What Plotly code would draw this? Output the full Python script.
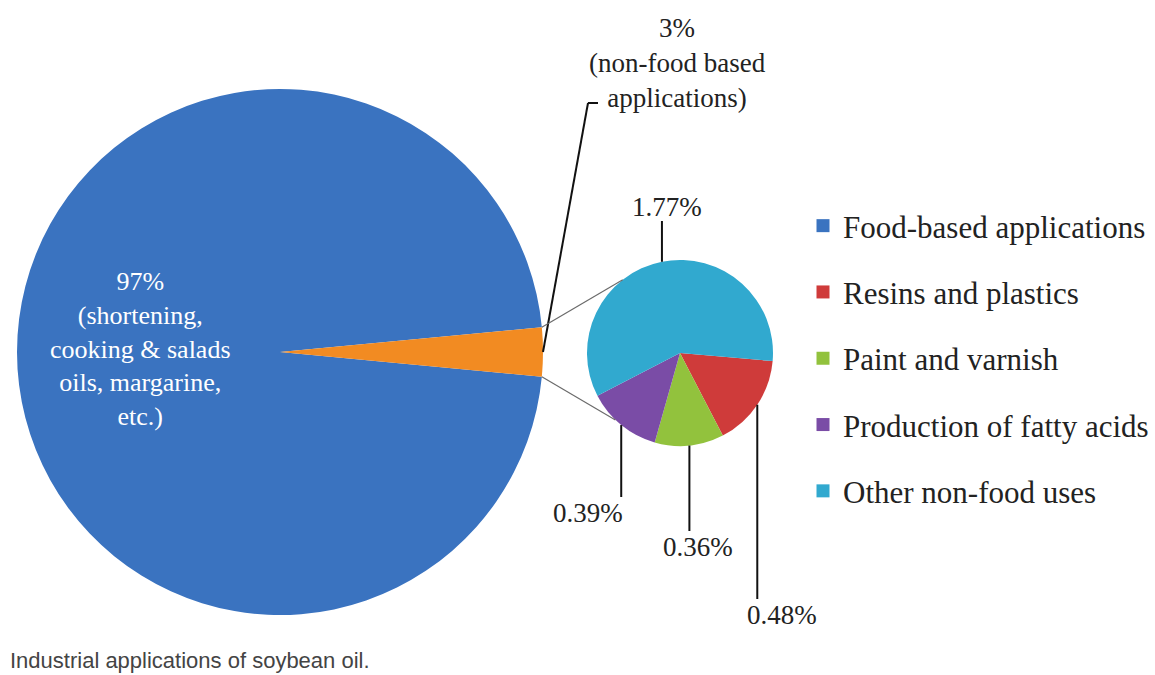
import math
import plotly.graph_objects as go

# ---------------- data ----------------
main_labels = ["Food-based applications", "Non-food based applications"]
main_values = [97, 3]
main_notes = ["(shortening,<br>cooking & salads<br>oils, margarine,<br>etc.)",
              "(non-food based<br>applications)"]

sub_labels = ["Resins and plastics", "Paint and varnish",
              "Production of fatty acids", "Other non-food uses"]
sub_values = [0.48, 0.36, 0.39, 1.77]

legend_order = ["Food-based applications", "Resins and plastics", "Paint and varnish",
                "Production of fatty acids", "Other non-food uses"]

caption = "Industrial applications of soybean oil."

# ---------------- styles ----------------
colors = {
    "Food-based applications": "#3A73C0",
    "Non-food based applications": "#F28B22",
    "Resins and plastics": "#CF3B3A",
    "Paint and varnish": "#92C23D",
    "Production of fatty acids": "#7A4CA6",
    "Other non-food uses": "#31A9CF",
}

W, H = 1155, 675
BIG_C, BIG_R = (280, 352), 263
SMALL_C, SMALL_R = (680, 353), 93
SUB_ROTATION = 95
CONNECT_ANGLES = (322, 224)  # upper / lower points reached on the small pie

# label anchor positions (px) for the small-pie labels, same order as sub_labels
sub_label_pos = [(782, 615), (698, 547), (588, 513), (667, 207)]
main_label_pos = [(140, 349), (677, 63)]
non_food_elbow = [(588, 103), (598, 103)]

SERIF = "Liberation Serif"


def px(x):
    return x / W


def py(y):
    return 1 - y / H


def on_circle(c, r, ang):
    a = math.radians(ang)
    return c[0] + r * math.sin(a), c[1] - r * math.cos(a)


def domain(c, r):
    return dict(x=[px(c[0] - r), px(c[0] + r)], y=[py(c[1] + r), py(c[1] - r)])


total_main = sum(main_values)
# centre the non-food slice on 3 o'clock
before = sum(main_values[:1]) + main_values[1] / 2
main_rotation = (90 - 360 * before / total_main) % 360
slice_start = main_rotation + 360 * main_values[0] / total_main
slice_end = slice_start + 360 * main_values[1] / total_main
slice_mid = (slice_start + slice_end) / 2

fig = go.Figure()

fig.add_trace(go.Pie(
    labels=main_labels, values=main_values, sort=False, direction="clockwise",
    rotation=main_rotation, domain=domain(BIG_C, BIG_R),
    marker=dict(colors=[colors[l] for l in main_labels], line=dict(width=0)),
    textinfo="none", showlegend=False, hoverinfo="label+value",
))

fig.add_trace(go.Pie(
    labels=sub_labels, values=sub_values, sort=False, direction="clockwise",
    rotation=SUB_ROTATION, domain=domain(SMALL_C, SMALL_R),
    marker=dict(colors=[colors[l] for l in sub_labels], line=dict(width=0)),
    textinfo="none", showlegend=False, hoverinfo="label+value",
))

# legend entries
for lab in legend_order:
    fig.add_trace(go.Scatter(
        x=[None], y=[None], mode="markers", name=lab, legendgroup=lab,
        marker=dict(symbol="square", size=13, color=colors[lab]),
        showlegend=True, hoverinfo="skip",
    ))

shapes = []
annotations = []

# main pie labels
annotations.append(dict(
    x=px(main_label_pos[0][0]), y=py(main_label_pos[0][1]), xref="paper", yref="paper",
    text=f"{main_values[0]}%<br>{main_notes[0]}", showarrow=False,
    font=dict(family=SERIF, size=26, color="white"), align="center",
    xanchor="center", yanchor="middle",
))
annotations.append(dict(
    x=px(main_label_pos[1][0]), y=py(main_label_pos[1][1]), xref="paper", yref="paper",
    text=f"{main_values[1]}%<br>{main_notes[1]}", showarrow=False,
    font=dict(family=SERIF, size=27, color="#222"), align="center",
    xanchor="center", yanchor="middle",
))

# leader for the non-food slice
sx, sy = on_circle(BIG_C, BIG_R, slice_mid)
pts = [(sx, sy)] + non_food_elbow
for (x0, y0), (x1, y1) in zip(pts[:-1], pts[1:]):
    shapes.append(dict(type="line", xref="paper", yref="paper",
                       x0=px(x0), y0=py(y0), x1=px(x1), y1=py(y1),
                       line=dict(color="#111", width=2)))

# connectors between the pies (upper edge -> upper point, lower edge -> lower point)
for edge_ang, small_ang in ((slice_start, CONNECT_ANGLES[0]), (slice_end, CONNECT_ANGLES[1])):
    x0, y0 = on_circle(BIG_C, BIG_R, edge_ang)
    x1, y1 = on_circle(SMALL_C, SMALL_R, small_ang)
    shapes.append(dict(type="line", xref="paper", yref="paper",
                       x0=px(x0), y0=py(y0), x1=px(x1), y1=py(y1),
                       line=dict(color="#6b6b6b", width=1.2)))

# small pie labels with vertical leader lines
total_sub = sum(sub_values)
ang = SUB_ROTATION
for lab, v, (lx, ly) in zip(sub_labels, sub_values, sub_label_pos):
    span = 360 * v / total_sub
    mid = ang + span / 2
    ang += span
    ex, ey = on_circle(SMALL_C, SMALL_R, mid)
    end_y = ly - 16 if ly > ey else ly + 14
    shapes.append(dict(type="line", xref="paper", yref="paper",
                       x0=px(ex), y0=py(ey), x1=px(ex), y1=py(end_y),
                       line=dict(color="#111", width=2)))
    annotations.append(dict(
        x=px(lx), y=py(ly), xref="paper", yref="paper",
        text=f"{v:.2f}%", showarrow=False,
        font=dict(family=SERIF, size=27, color="#222"),
        xanchor="center", yanchor="middle",
    ))

# caption
annotations.append(dict(
    x=px(8), y=py(660), xref="paper", yref="paper", text=caption, showarrow=False,
    font=dict(family="Liberation Sans", size=22, color="#444"),
    xanchor="left", yanchor="middle",
))

fig.update_layout(
    width=W, height=H,
    margin=dict(l=0, r=0, t=0, b=0),
    paper_bgcolor="white", plot_bgcolor="white",
    xaxis=dict(visible=False), yaxis=dict(visible=False),
    shapes=shapes, annotations=annotations,
    legend=dict(x=px(803), y=py(199), xanchor="left", yanchor="top",
                font=dict(family=SERIF, size=31, color="#222"),
                traceorder="grouped", tracegroupgap=23,
                bgcolor="rgba(0,0,0,0)"),
)

fig.write_html("out.html", config={"displayModeBar": False},
               post_script="document.body.style.margin='0px';document.body.style.overflow='hidden';")
